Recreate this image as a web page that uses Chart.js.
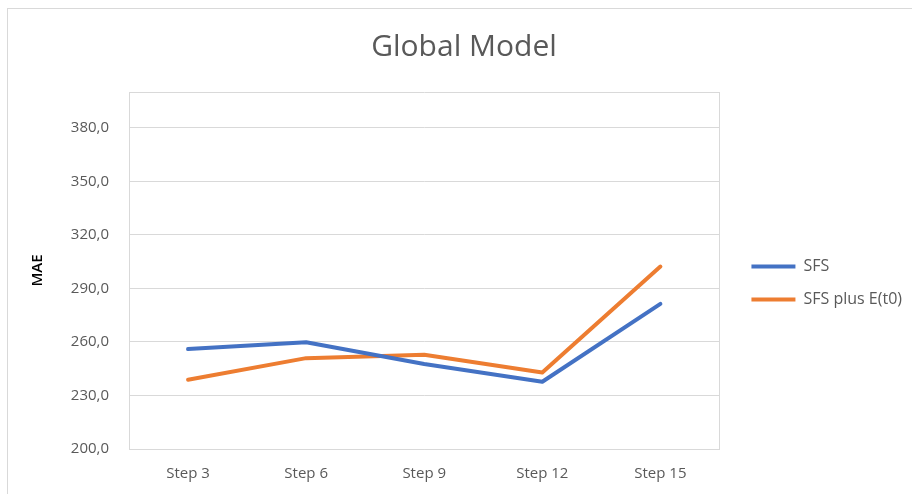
<!DOCTYPE html>
<html>
<head>
<meta charset="utf-8">
<script src="https://cdn.jsdelivr.net/npm/chart.js@4"></script>
<style>
  html, body { margin: 0; padding: 0; background: #fff; }
  #wrap { position: relative; width: 912px; height: 494px; overflow: hidden; }
  #frame { position: absolute; left: 7px; top: 8px; width: 1000px; height: 600px;
           border-left: 1px solid #d9d9d9; border-top: 1px solid #d9d9d9; }
  #chart { position: absolute; left: 0; top: 0; }
</style>
</head>
<body>
<div id="wrap">
  <div id="frame"></div>
  <canvas id="chart" width="912" height="494"></canvas>
</div>
<script>
// -------------------- Data --------------------
const steps = ["Step 3", "Step 6", "Step 9", "Step 12", "Step 15"];
const sfs = [256.0, 259.8, 247.6, 237.7, 281.3];
const sfsPlusE = [238.8, 250.9, 252.8, 242.9, 302.2];
const yTicks = [200, 230, 260, 290, 320, 350, 380];
const yMin = 200, yMax = 400;

const FONT = "'Open Sans', 'DejaVu Sans', sans-serif";
const GREY = "#595959";
const GRID = "#d9d9d9";

Chart.defaults.font.family = FONT;
Chart.defaults.color = GREY;

new Chart(document.getElementById("chart"), {
  type: "line",
  data: {
    labels: steps,
    datasets: [
      { label: "SFS", data: sfs, borderColor: "#4472C4", backgroundColor: "#4472C4" },
      { label: "SFS plus E(t0)", data: sfsPlusE, borderColor: "#ED7D31", backgroundColor: "#ED7D31" }
    ]
  },
  options: {
    responsive: false,
    animation: false,
    layout: { padding: { left: 16 } },
    elements: {
      line: { borderWidth: 4, tension: 0, borderCapStyle: "round", borderJoinStyle: "round", fill: false },
      point: { radius: 0, hoverRadius: 0 }
    },
    plugins: {
      title: {
        display: true,
        text: "Global Model",
        color: GREY,
        font: { size: 30, weight: "normal" },
        padding: { top: 29, bottom: 27 }
      },
      legend: {
        position: "right",
        maxWidth: 400,
        title: { display: true, text: "", font: { size: 10 }, padding: { top: 60, bottom: 0 } },
        labels: {
          boxWidth: 44,
          boxHeight: 4,
          padding: 17,
          color: GREY,
          font: { size: 16 },
          generateLabels(chart) {
            return chart.data.datasets.map((ds, i) => ({
              text: ds.label,
              fillStyle: ds.borderColor,
              strokeStyle: ds.borderColor,
              lineWidth: 0,
              fontColor: GREY,
              datasetIndex: i
            }));
          }
        }
      },
      tooltip: { enabled: false }
    },
    scales: {
      x: {
        offset: true,
        grid: { display: false, drawTicks: false },
        border: { display: true, color: GRID },
        ticks: { color: GREY, font: { size: 15 }, padding: 16 },
        afterFit(scale) { scale.height = 45; }
      },
      xTop: {
        type: "category",
        position: "top",
        grid: { display: false, drawTicks: false },
        border: { display: true, color: GRID },
        ticks: { display: false },
        afterFit(scale) { scale.height = 0; }
      },
      y: {
        min: yMin,
        max: yMax,
        afterBuildTicks(axis) { axis.ticks = yTicks.map(v => ({ value: v })); },
        grid: { color: GRID, drawTicks: false },
        border: { display: true, color: GRID },
        ticks: {
          color: GREY,
          font: { size: 15 },
          padding: 20,
          callback: v => v.toFixed(1).replace(".", ",")
        },
        title: {
          display: true,
          text: "MAE",
          color: "#000",
          font: { size: 15, weight: 600 },
          padding: { top: 13, bottom: 0 }
        },
        afterFit(scale) { scale.width = 113; }
      },
      yRight: {
        type: "linear",
        position: "right",
        min: yMin,
        max: yMax,
        grid: { display: false, drawTicks: false },
        border: { display: true, color: GRID },
        ticks: { display: false },
        afterFit(scale) { scale.width = 15; }
      }
    }
  }
});
</script>
</body>
</html>
